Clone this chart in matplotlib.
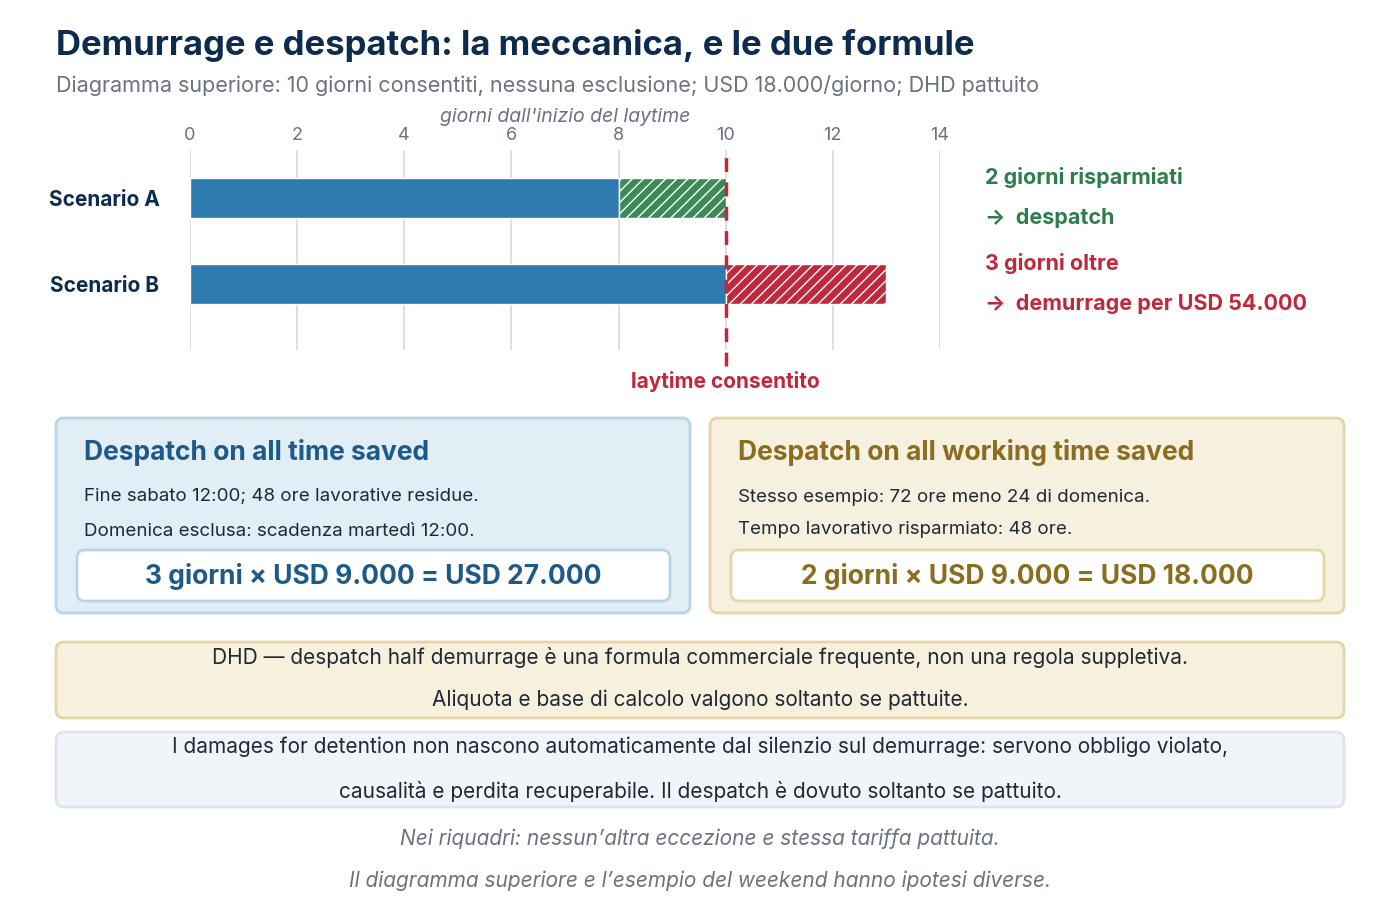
import matplotlib
matplotlib.use("Agg")
import matplotlib.pyplot as plt
from matplotlib.patches import FancyBboxPatch

plt.rcParams['font.family'] = ['Inter', 'DejaVu Sans']

scenarios = ["Scenario A", "Scenario B"]
base_days = [8, 10]
extra_days = [2, 3]
extra_colors = ["#3b8a57", "#c0283c"]
laytime = 10
xticks = [0, 2, 4, 6, 8, 10, 12, 14]

W, H = 1400, 908
fig = plt.figure(figsize=(14, 9.08), dpi=100)

def fx(px): return px / W
def fy(py): return 1 - py / H

# main bar axes
ax = fig.add_axes([fx(190), fy(350), fx(940) - fx(190), (350 - 150) / H])
ax.set_xlim(0, 14)
ax.set_ylim(1 + 66 / 86, -48 / 86)
ypos = list(range(len(scenarios)))
ax.barh(ypos, base_days, height=0.47, color="#2e7bb0", edgecolor="white", linewidth=1)
for y, b, e, c in zip(ypos, base_days, extra_days, extra_colors):
    ax.barh(y, e, left=b, height=0.47, color=c, edgecolor="white", hatch="///", linewidth=1)
ax.axvline(laytime, ymin=-0.08, ymax=1, color="#c0283c", lw=2.5, ls=(0, (4, 3)), clip_on=False, zorder=5)
ax.set_xticks(xticks)
ax.xaxis.tick_top()
ax.xaxis.set_label_position("top")
ax.tick_params(axis="x", length=0, labelsize=13, labelcolor="#6b7280", pad=4)
ax.set_xlabel("giorni dall'inizio del laytime", fontsize=14, style="italic", color="#6b7280", labelpad=4)
ax.set_yticks(ypos)
ax.set_yticklabels(scenarios, fontsize=15, fontweight="bold", color="#0d2b4e")
ax.tick_params(axis="y", length=0, pad=22)
ax.grid(axis="x", color="#d9d9d9", lw=1.2)
ax.set_axisbelow(True)
for s in ax.spines.values():
    s.set_visible(False)

# overlay
ov = fig.add_axes([0, 0, 1, 1])
ov.set_xlim(0, W); ov.set_ylim(H, 0); ov.axis("off")

ov.text(56, 45, "Demurrage e despatch: la meccanica, e le due formule", fontsize=25, fontweight="bold", color="#0d2b4e", va="center")
ov.text(56, 85, "Diagramma superiore: 10 giorni consentiti, nessuna esclusione; USD 18.000/giorno; DHD pattuito", fontsize=15.5, color="#6b7280", va="center")
ov.text(725, 381, "laytime consentito", fontsize=15, fontweight="bold", color="#c0283c", ha="center", va="center")

ov.text(985, 177, "2 giorni risparmiati", fontsize=15.5, fontweight="bold", color="#2e7d4f", va="center")
ov.text(985, 218, "→  despatch", fontsize=15.5, fontweight="bold", color="#2e7d4f", va="center")
ov.text(985, 263, "3 giorni oltre", fontsize=15.5, fontweight="bold", color="#c0283c", va="center")
ov.text(985, 304, "→  demurrage per USD 54.000", fontsize=15.5, fontweight="bold", color="#c0283c", va="center")

def box(x0, y0, x1, y1, fc, ec, lw=2, r=8):
    ov.add_patch(FancyBboxPatch((x0, y0), x1 - x0, y1 - y0, boxstyle=f"round,pad=0,rounding_size={r}",
                                fc=fc, ec=ec, lw=lw))

# box 1
box(56, 418, 690, 613, "#e1eef6", "#b8d4e8")
box(77, 550, 670, 601, "white", "#b8d4e8")
ov.text(84, 453, "Despatch on all time saved", fontsize=19, fontweight="bold", color="#1d5a8a", va="center")
ov.text(84, 497, "Fine sabato 12:00; 48 ore lavorative residue.", fontsize=13.5, color="#1f2937", va="center")
ov.text(84, 531, "Domenica esclusa: scadenza martedì 12:00.", fontsize=13.5, color="#1f2937", va="center")
ov.text(373, 577, "3 giorni × USD 9.000 = USD 27.000", fontsize=19, fontweight="bold", color="#1d5a8a", ha="center", va="center")

# box 2
box(710, 418, 1344, 613, "#f6f0de", "#e6d5a8")
box(731, 550, 1324, 601, "white", "#e6d5a8")
ov.text(738, 453, "Despatch on all working time saved", fontsize=19, fontweight="bold", color="#8a6d1f", va="center")
ov.text(738, 497, "Stesso esempio: 72 ore meno 24 di domenica.", fontsize=13.5, color="#1f2937", va="center")
ov.text(738, 529, "Tempo lavorativo risparmiato: 48 ore.", fontsize=13.5, color="#1f2937", va="center")
ov.text(1027, 577, "2 giorni × USD 9.000 = USD 18.000", fontsize=19, fontweight="bold", color="#8a6d1f", ha="center", va="center")

# box 3
box(56, 642, 1344, 718, "#f6f0dd", "#e6d5a8")
ov.text(700, 658, "DHD — despatch half demurrage è una formula commerciale frequente, non una regola suppletiva.", fontsize=15, color="#1f2937", ha="center", va="center")
ov.text(700, 700, "Aliquota e base di calcolo valgono soltanto se pattuite.", fontsize=15, color="#1f2937", ha="center", va="center")

# box 4
box(56, 732, 1344, 807, "#f1f5f9", "#dde5ec")
ov.text(700, 747, "I damages for detention non nascono automaticamente dal silenzio sul demurrage: servono obbligo violato,", fontsize=15, color="#1f2937", ha="center", va="center")
ov.text(700, 791, "causalità e perdita recuperabile. Il despatch è dovuto soltanto se pattuito.", fontsize=15, color="#1f2937", ha="center", va="center")

ov.text(700, 839, "Nei riquadri: nessun’altra eccezione e stessa tariffa pattuita.", fontsize=15, style="italic", color="#6b7280", ha="center", va="center")
ov.text(700, 881, "Il diagramma superiore e l’esempio del weekend hanno ipotesi diverse.", fontsize=15, style="italic", color="#6b7280", ha="center", va="center")

fig.savefig("out.png", dpi=100)
